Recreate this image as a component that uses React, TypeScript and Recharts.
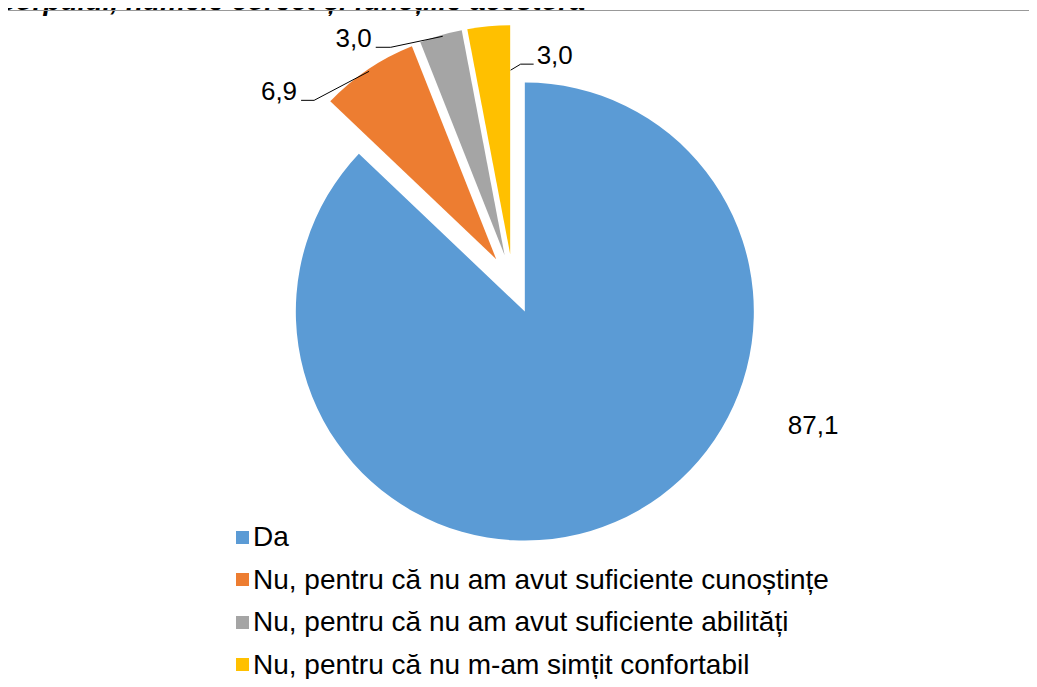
import { PieChart, Pie, Cell, Legend } from "recharts";

const categories = [
  "Da",
  "Nu, pentru că nu am avut suficiente cunoștințe",
  "Nu, pentru că nu am avut suficiente abilități",
  "Nu, pentru că nu m-am simțit confortabil",
];
const values = [87.1, 6.9, 3.0, 3.0];
const colors = ["#5B9BD5", "#ED7D31", "#A5A5A5", "#FFC000"];

const data = categories.map((name, i) => ({ name, value: values[i] }));

const FONT = '"Liberation Sans", Arial, sans-serif';
const CX = 513;
const CY = 284;
const R = 229;
const EXPLODE = 30;
const RADIAN = Math.PI / 180;
const total = values.reduce((a, b) => a + b, 0);

// where each data label sits, relative to the outer middle of its slice
const labelLayout: {
  dx: number;
  dy: number;
  anchor: "start" | "middle" | "end";
  line: number[][] | null;
}[] = [
  { dx: 198, dy: -97, anchor: "middle", line: null },
  { dx: -71, dy: 22, anchor: "end", line: [[1, 2], [-54, 31], [-67, 31]] },
  { dx: -69, dy: 3, anchor: "end", line: [[2, 1], [-50, 12], [-65, 12]] },
  { dx: 48, dy: 29, anchor: "start", line: [[22, 44], [32, 38], [45, 38]] },
];

// mid angle of each slice (clockwise from 12 o'clock), used to explode it
function midAngle(i: number) {
  const before = values.slice(0, i).reduce((a, b) => a + b, 0);
  return 90 - ((before + values[i] / 2) / total) * 360;
}

function makeLabel(target: number) {
  return (props: any) => {
    const { cx, cy, outerRadius, index } = props;
    if (index !== target) return null;
    const a = -props.midAngle * RADIAN;
    const ox = cx + outerRadius * Math.cos(a);
    const oy = cy + outerRadius * Math.sin(a);
    const l = labelLayout[index];
    return (
      <g>
        {l.line && (
          <polyline
            points={l.line.map((p) => `${ox + p[0]},${oy + p[1]}`).join(" ")}
            fill="none"
            stroke="#000"
            strokeWidth={1}
          />
        )}
        <text
          x={ox + l.dx}
          y={oy + l.dy}
          textAnchor={l.anchor}
          dominantBaseline="central"
          fontSize={26}
          fontFamily={FONT}
          fill="#000"
        >
          {values[index].toFixed(1).replace(".", ",")}
        </text>
      </g>
    );
  };
}

function LegendContent() {
  return (
    <div style={{ fontFamily: FONT, fontSize: 28, color: "#000" }}>
      {categories.map((c, i) => (
        <div
          key={c}
          style={{ display: "flex", alignItems: "center", height: 42.5 }}
        >
          <span
            style={{
              display: "inline-block",
              width: 13,
              height: 13,
              background: colors[i],
              marginRight: 4,
            }}
          />
          <span>{c}</span>
        </div>
      ))}
    </div>
  );
}

export default function App() {
  return (
    <div
      style={{
        position: "relative",
        width: 1037,
        height: 687,
        margin: -8,
        overflow: "hidden",
        background: "#fff",
        fontFamily: FONT,
      }}
    >
      <div
        style={{
          position: "absolute",
          left: 0,
          top: -13,
          fontSize: 28,
          lineHeight: "28px",
          fontWeight: "bold",
          fontStyle: "italic",
          whiteSpace: "nowrap",
        }}
      >
        corpului, numele corect și funcțiile acestora
      </div>
      <div
        style={{
          position: "absolute",
          left: 7,
          top: 10,
          width: 1100,
          height: 800,
          borderLeft: "1px solid #999",
          borderTop: "1px solid #999",
        }}
      />
      <div style={{ position: "absolute", left: 0, top: 0 }}>
        <PieChart
          width={1037}
          height={687}
          margin={{ top: 0, right: 0, bottom: 0, left: 0 }}
        >
          {values.map((_, k) => {
            const m = midAngle(k) * RADIAN;
            return (
              <Pie
                key={k}
                data={data}
                dataKey="value"
                nameKey="name"
                cx={CX + EXPLODE * Math.cos(m)}
                cy={CY - EXPLODE * Math.sin(m)}
                outerRadius={R}
                startAngle={90}
                endAngle={-270}
                stroke="none"
                labelLine={false}
                label={makeLabel(k)}
                isAnimationActive={false}
                legendType="none"
              >
                {data.map((d, i) => (
                  <Cell
                    key={d.name}
                    fill={i === k ? colors[i] : "transparent"}
                  />
                ))}
              </Pie>
            );
          })}
          <Legend
            content={<LegendContent />}
            wrapperStyle={{ position: "absolute", left: 236, top: 516, width: 760 }}
          />
        </PieChart>
      </div>
    </div>
  );
}
